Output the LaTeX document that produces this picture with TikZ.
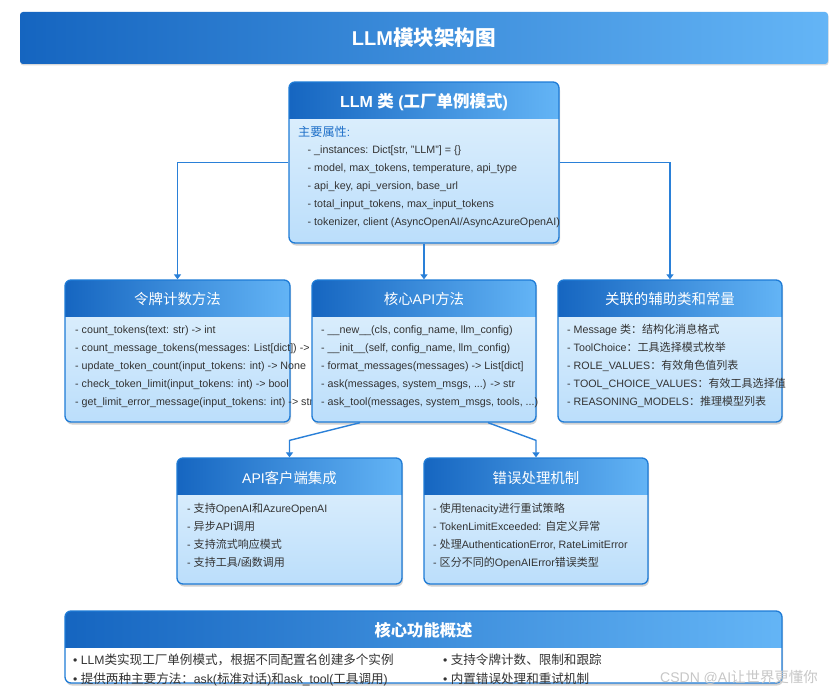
\documentclass[tikz,border=0pt]{standalone}
\usepackage{fontspec}
\setmainfont{Liberation Sans}
\newfontfamily\latfont{Liberation Sans}
\newfontfamily\cjkfont[Scale=1.03]{Noto Sans CJK SC}
\usetikzlibrary{shadows,arrows.meta}
% automatic switch between Latin and CJK fonts
\newXeTeXintercharclass\CJKcls
\newcount\cjkcnt
\newcommand\setclassrange[3]{\cjkcnt=#1\relax
  \loop\XeTeXcharclass\cjkcnt=#3\relax\ifnum\cjkcnt<#2\relax\advance\cjkcnt by 1\relax\repeat}
\setclassrange{"0021}{"024F}{0}
\setclassrange{"2000}{"206F}{0}
\setclassrange{"3000}{"303F}{\CJKcls}
\setclassrange{"4E00}{"9FFF}{\CJKcls}
\setclassrange{"FF00}{"FFEF}{\CJKcls}
\XeTeXinterchartokenstate=1
\XeTeXinterchartoks 0 \CJKcls={\cjkfont}
\XeTeXinterchartoks 4095 \CJKcls={\cjkfont}
\XeTeXinterchartoks \CJKcls 0={\latfont}
\XeTeXinterchartoks \CJKcls 4095={\latfont}
\definecolor{hl}{HTML}{1565C0}
\definecolor{hr}{HTML}{64B5F6}
\definecolor{bord}{HTML}{1E7BD6}
\definecolor{bodytop}{HTML}{E3F2FD}
\definecolor{bodybot}{HTML}{BBDEFB}
\definecolor{txtc}{HTML}{333333}
\definecolor{blueT}{HTML}{1E6FC8}
\definecolor{conn}{HTML}{2A80D8}
\tikzset{
  cardbase/.style={draw=bord, line width=1.3pt, rounded corners=6pt, inner sep=0pt,
    drop shadow={shadow xshift=1pt, shadow yshift=-2.5pt, opacity=0.18, fill=black},
    path picture={\shade[sharp corners, left color=hl, right color=hr]
      ([xshift=-2pt,yshift=2pt]path picture bounding box.north west) rectangle
      ([xshift=2pt,yshift=-36pt]path picture bounding box.north east);}},
  card/.style={cardbase, top color=bodytop, bottom color=bodybot},
  sumbox/.style={cardbase, fill=white},
  banner/.style={rounded corners=3pt, left color=hl, right color=hr, text=white,
    font=\bfseries\fontsize{20}{22}\selectfont,
    drop shadow={shadow xshift=0.5pt, shadow yshift=-1.5pt, opacity=0.15, fill=black}},
  htitle/.style={anchor=base, text=white, inner sep=0pt, font=\fontsize{14}{16}\selectfont},
  txt/.style={anchor=base west, inner sep=0pt, text=txtc, font=\fontsize{10.7}{12}\selectfont},
  sumtxt/.style={anchor=base west, inner sep=0pt, text=txtc, font=\fontsize{12.2}{14}\selectfont},
  conn/.style={draw=conn, line width=1.4pt, -{Triangle[length=5pt,width=7pt]}},
}
\newcommand\bodylines[4]{%
  \foreach \t [count=\i] in {#4} {\node[txt] (#1\i) at (#2, #3-18*\i+18) {\t};}}
\begin{document}
\begin{tikzpicture}[x=1pt,y=1pt]
\useasboundingbox (0,0) rectangle (832,-693);
\fill[white] (0,0) rectangle (832,-693);

% banner
\node[banner, minimum width=808pt, minimum height=52pt] (title) at (424,-38) {LLM模块架构图};

% LLM class
\node[card, minimum width=270pt, minimum height=161pt] (llm) at (424,-162.5) {};
\node[htitle, font=\bfseries\fontsize{16}{18}\selectfont] (llmt) at (424,-107) {LLM 类 (工厂单例模式)};
\node[anchor=base west, inner sep=0pt, text=blueT, font=\fontsize{11.8}{13}\selectfont] (llmh) at (298,-136) {主要属性:};
\bodylines{llml}{307.5}{-153.8}{{- \_instances: Dict[str, "LLM"] = \{\}},{- model, max\_tokens, temperature, api\_type},{- api\_key, api\_version, base\_url},{- total\_input\_tokens, max\_input\_tokens},{- tokenizer, client (AsyncOpenAI/AsyncAzureOpenAI)}}

% token box
\node[card, minimum width=225pt, minimum height=142pt] (tok) at (177.5,-351) {};
\node[htitle] (tokt) at (177.5,-304.5) {令牌计数方法};
\bodylines{tokl}{75}{-333.8}{{- count\_tokens(text: str) -> int},{- count\_message\_tokens(messages: List[dict]) ->},{- update\_token\_count(input\_tokens: int) -> None},{- check\_token\_limit(input\_tokens: int) -> bool},{- get\_limit\_error\_message(input\_tokens: int) -> str}}

% core API box
\node[card, minimum width=224pt, minimum height=142pt] (core) at (424,-351) {};
\node[htitle] (coret) at (424,-304.5) {核心API方法};
\bodylines{corel}{321}{-333.8}{{- \_\_new\_\_(cls, config\_name, llm\_config)},{- \_\_init\_\_(self, config\_name, llm\_config)},{- format\_messages(messages) -> List[dict]},{- ask(messages, system\_msgs, .{}.{}.) -> str},{- ask\_tool(messages, system\_msgs, tools, .{}.{}.)}}

% aux box
\node[card, minimum width=224pt, minimum height=142pt] (aux) at (670,-351) {};
\node[htitle] (auxt) at (670,-304.5) {关联的辅助类和常量};
\bodylines{auxl}{567}{-333.8}{{- Message 类：结构化消息格式},{- ToolChoice：工具选择模式枚举},{- ROLE\_VALUES：有效角色值列表},{- TOOL\_CHOICE\_VALUES：有效工具选择值},{- REASONING\_MODELS：推理模型列表}}

% API client box
\node[card, minimum width=225pt, minimum height=126pt] (api) at (289.5,-521) {};
\node[htitle] (apit) at (289.5,-483.2) {API客户端集成};
\bodylines{apil}{187}{-512.8}{{- 支持OpenAI和AzureOpenAI},{- 异步API调用},{- 支持流式响应模式},{- 支持工具/函数调用}}

% error box
\node[card, minimum width=224pt, minimum height=126pt] (err) at (536,-521) {};
\node[htitle] (errt) at (536,-483.2) {错误处理机制};
\bodylines{errl}{433}{-512.8}{{- 使用tenacity进行重试策略},{- TokenLimitExceeded: 自定义异常},{- 处理AuthenticationError, RateLimitError},{- 区分不同的OpenAIError错误类型}}

% connectors
\draw[conn] (llm.west) -| (tok.north);
\draw[conn] (llm.south) -- (core.north);
\draw[conn] (llm.east) -| (aux.north);
\coordinate (c1) at ([xshift=-64pt]core.south);
\coordinate (k1) at ([yshift=17pt]api.north);
\coordinate (c2) at ([xshift=64pt]core.south);
\coordinate (k2) at ([yshift=17pt]err.north);
\draw[conn] (c1) -- (k1) -- (api.north);
\draw[conn] (c2) -- (k2) -- (err.north);

% summary box
\node[sumbox, minimum width=717pt, minimum height=72pt] (sum) at (423.5,-647) {};
\node[htitle, font=\bfseries\fontsize{15.8}{18}\selectfont] (sumt) at (423.5,-636) {核心功能概述};
\node[sumtxt] (s1) at (73,-664.5) {• LLM类实现工厂单例模式，根据不同配置名创建多个实例};
\node[sumtxt] (s2) at (73,-683.5) {• 提供两种主要方法：ask(标准对话)和ask\_tool(工具调用)};
\node[sumtxt] (s3) at (443,-664.5) {• 支持令牌计数、限制和跟踪};
\node[sumtxt] (s4) at (443,-683.5) {• 内置错误处理和重试机制};

% watermark
\node[anchor=base west, inner sep=0pt, text=black!22, font=\fontsize{14}{16}\selectfont] (wm) at (660,-682.5) {CSDN @AI让世界更懂你};
\end{tikzpicture}
\end{document}
